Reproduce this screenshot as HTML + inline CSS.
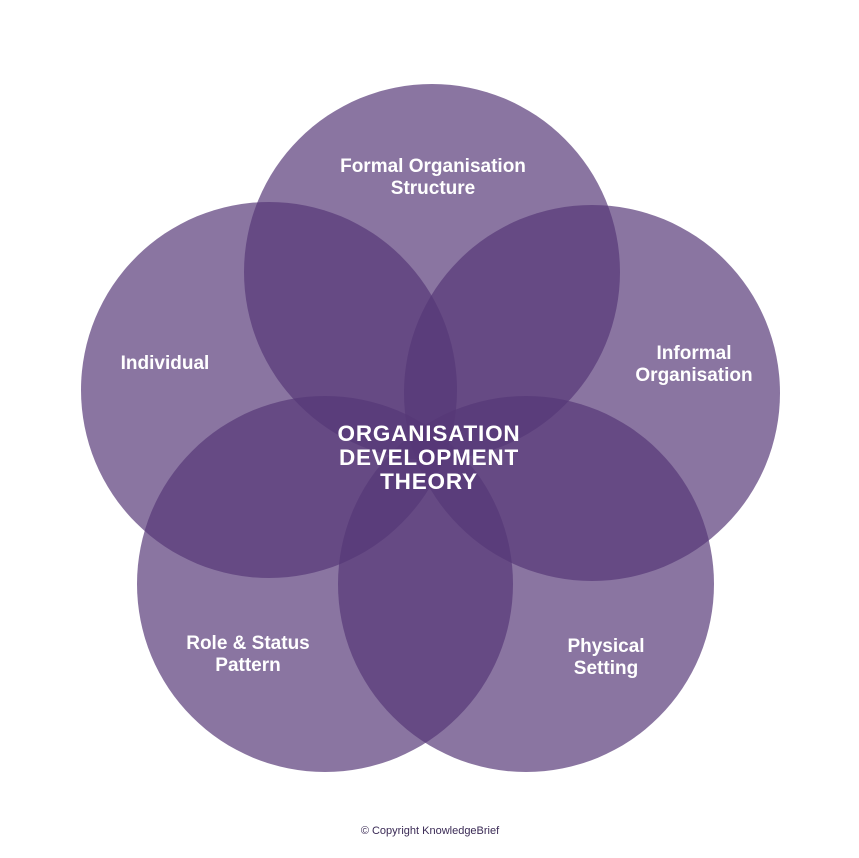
<!DOCTYPE html>
<html><head><style>
body{margin:0;background:#fff;}
svg{display:block;}
text{font-family:"Liberation Sans",sans-serif;font-weight:bold;fill:#fff;text-anchor:middle;}
</style></head><body>
<svg width="859" height="858" viewBox="0 0 859 858">
<g fill="rgb(85,55,119)" fill-opacity="0.69">
<circle cx="432" cy="272" r="188"/>
<circle cx="269" cy="390" r="188"/>
<circle cx="592" cy="393" r="188"/>
<circle cx="325" cy="584" r="188"/>
<circle cx="526" cy="584" r="188"/>
</g>
<g font-size="19">
<text x="433" y="172">Formal Organisation</text>
<text x="433" y="194">Structure</text>
<text x="165" y="369">Individual</text>
<text x="694" y="359">Informal</text>
<text x="694" y="381">Organisation</text>
<text x="248" y="649">Role &amp; Status</text>
<text x="248" y="671">Pattern</text>
<text x="606" y="652">Physical</text>
<text x="606" y="674">Setting</text>
</g>
<g font-size="22.5" letter-spacing="0.8">
<text x="429" y="441">ORGANISATION</text>
<text x="429" y="465">DEVELOPMENT</text>
<text x="429" y="489">THEORY</text>
</g>
<text x="430" y="834" font-size="11" style="fill:#3a2a55;font-weight:normal">© Copyright KnowledgeBrief</text>
</svg>
</body></html>
